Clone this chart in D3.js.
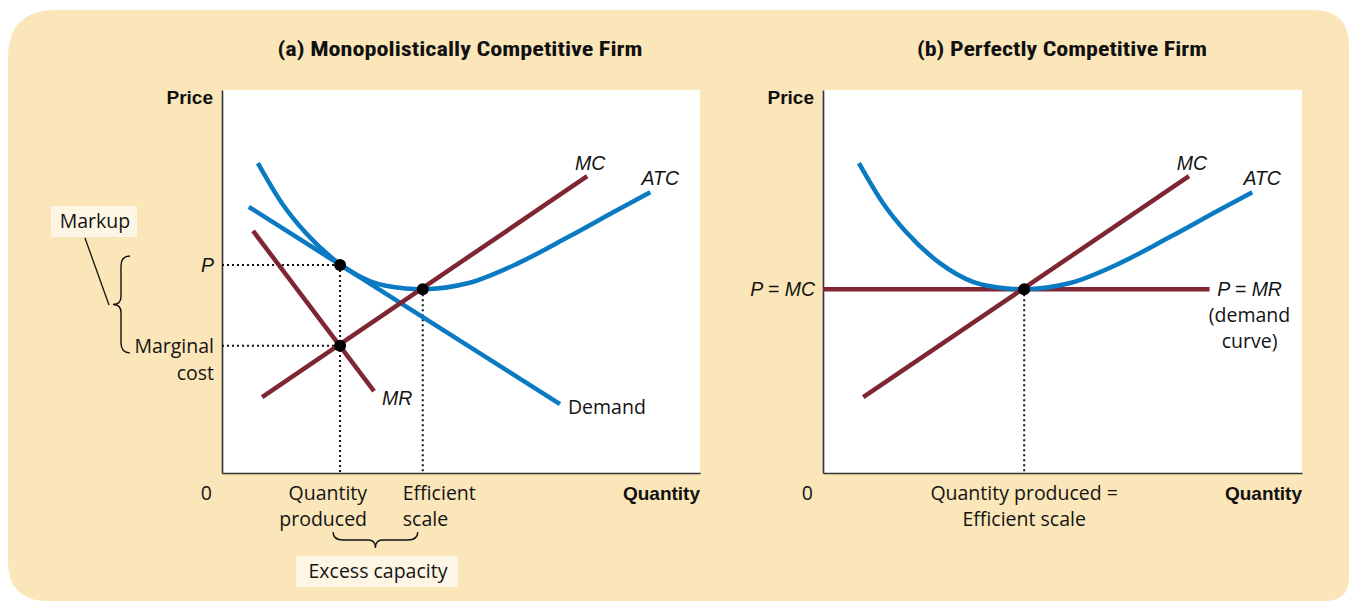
<!DOCTYPE html>
<html><head><meta charset="utf-8">
<script src="https://cdn.jsdelivr.net/npm/d3@7"></script>
<style>
body{margin:0;background:#fff;}
svg{display:block;}
.title{font-family:"Liberation Sans Narrow","Arial Narrow","Roboto Condensed",sans-serif;font-weight:bold;font-size:20px;fill:#111;}
.bold{font-family:"Liberation Sans Narrow","Arial Narrow",sans-serif;font-weight:bold;font-size:19px;fill:#111;}
.reg{font-family:"Open Sans","Noto Sans",sans-serif;font-size:19.5px;fill:#141414;}
.ital{font-family:"Liberation Sans",Arial,sans-serif;font-style:italic;font-size:19.5px;fill:#141414;}
</style></head>
<body>
<svg id="c" width="1349" height="602"></svg>
<script>
// ---- data (quantity 0-100, price/cost 0-100) ----
const atcQ = [7.5, 12.5, 17.5, 24.4, 31.3, 38.4, 41.8, 51.6, 62.0, 72.4, 82.9, 89.6];
const atcP = [80.9, 70.5, 62.7, 54.8, 49.9, 48.2, 48.0, 49.6, 54.8, 61.6, 68.8, 73.3];
const mcQ = [8.4, 76.4];
const mcP = [19.8, 77.5];
const demandQ = [5.6, 70.7];
const demandP = [69.5, 18.0];
const mrQ = [6.5, 31.8];
const mrP = [63.2, 21.4];
const pmrQ = [0, 80.7];
const pmrP = [48.0, 48.0];
// equilibrium points
const qProduced = 24.7, priceA = 54.3, mcAtQ = 33.2;
const qEfficient = 42.0, minATC = 48.0;
const titles = ["(a) Monopolistically Competitive Firm", "(b) Perfectly Competitive Firm"];
const titleWidths = [365, 290];

const BLUE = "#0a7bc2", RED = "#7f2633", BEIGE = "#fae6b8", CREAM = "#fef6e4";
const svg = d3.select("#c");

function roundedPath(x0,y0,x1,y1,rtl,rtr,rbr,rbl){
  const p = d3.path();
  p.moveTo(x0+rtl,y0);
  p.lineTo(x1-rtr,y0); p.quadraticCurveTo(x1,y0,x1,y0+rtr);
  p.lineTo(x1,y1-rbr); p.quadraticCurveTo(x1,y1,x1-rbr,y1);
  p.lineTo(x0+rbl,y1); p.quadraticCurveTo(x0,y1,x0,y1-rbl);
  p.lineTo(x0,y0+rtl); p.quadraticCurveTo(x0,y0,x0+rtl,y0);
  p.closePath(); return p.toString();
}
svg.append("path").attr("d", roundedPath(8,10,1349,601,48,36,24,40)).attr("fill",BEIGE);

const H = {top:90, bottom:473};
const panels = [{left:222,right:700,cx:460},{left:823,right:1302,cx:1062}];

panels.forEach((pn,i)=>{
  const x = d3.scaleLinear().domain([0,100]).range([pn.left,pn.right]);
  const y = d3.scaleLinear().domain([0,100]).range([H.bottom,H.top]);
  const g = svg.append("g");
  g.append("rect").attr("x",pn.left).attr("y",H.top).attr("width",pn.right-pn.left).attr("height",H.bottom-H.top).attr("fill","#fff");
  g.append("g").attr("transform",`translate(${pn.left},0)`)
    .call(d3.axisLeft(y).tickValues([]).tickSizeOuter(0))
    .call(s=>s.select(".domain").attr("stroke","#333").attr("stroke-width",1.6));
  g.append("g").attr("transform",`translate(0,${H.bottom})`)
    .call(d3.axisBottom(x).tickValues([]).tickSizeOuter(0))
    .call(s=>s.select(".domain").attr("stroke","#333").attr("stroke-width",1.6));

  svg.append("text").attr("class","title").attr("x",pn.cx).attr("y",56).attr("text-anchor","middle")
    .attr("textLength",titleWidths[i]).attr("lengthAdjust","spacingAndGlyphs").text(titles[i]);
  svg.append("text").attr("class","bold").attr("x",pn.left-9).attr("y",H.top+14).attr("text-anchor","end").text("Price");
  svg.append("text").attr("class","bold").attr("x",pn.right).attr("y",H.bottom+27).attr("text-anchor","end").text("Quantity");
  svg.append("text").attr("class","reg").attr("x",pn.left-10).attr("y",H.bottom+27).attr("text-anchor","end").text("0");

  const line = d3.line().x(d=>x(d[0])).y(d=>y(d[1]));
  const curve = d3.line().x(d=>x(d[0])).y(d=>y(d[1])).curve(d3.curveMonotoneX);
  const dotted = (x1,y1,x2,y2)=>g.append("line").attr("x1",x(x1)).attr("y1",y(y1)).attr("x2",x(x2)).attr("y2",y(y2))
      .attr("stroke","#111").attr("stroke-width",2).attr("stroke-dasharray","2,3");
  const atc = atcQ.map((q,k)=>[q,atcP[k]]);
  const mc = mcQ.map((q,k)=>[q,mcP[k]]);
  const stroke = (sel,c)=>sel.attr("stroke",c).attr("stroke-width",4.5).attr("fill","none");

  if(i===0){
    dotted(0,priceA,qProduced,priceA);
    dotted(0,mcAtQ,qProduced,mcAtQ);
    dotted(qProduced,priceA,qProduced,0);
    dotted(qEfficient,minATC,qEfficient,0);
    stroke(g.append("path").attr("d",line(demandQ.map((q,k)=>[q,demandP[k]]))),BLUE);
    stroke(g.append("path").attr("d",curve(atc)),BLUE);
    stroke(g.append("path").attr("d",line(mrQ.map((q,k)=>[q,mrP[k]]))),RED);
    stroke(g.append("path").attr("d",line(mc)),RED);
    [[qProduced,priceA],[qProduced,mcAtQ],[qEfficient,minATC]].forEach(d=>
      g.append("circle").attr("cx",x(d[0])).attr("cy",y(d[1])).attr("r",6).attr("fill","#000"));
    svg.append("text").attr("class","ital").attr("x",x(mcQ[1])+3).attr("y",y(mcP[1])-6).attr("text-anchor","middle").text("MC");
    svg.append("text").attr("class","ital").attr("x",x(atcQ[11])+10).attr("y",y(atcP[11])-7).attr("text-anchor","middle").text("ATC");
    svg.append("text").attr("class","ital").attr("x",x(mrQ[1])+8).attr("y",y(mrP[1])+14).text("MR");
    svg.append("text").attr("class","reg").attr("x",x(demandQ[1])+8).attr("y",y(demandP[1])+10).text("Demand");
    svg.append("text").attr("class","ital").attr("x",pn.left-8).attr("y",y(priceA)+7).attr("text-anchor","end").text("P");
    svg.append("text").attr("class","reg").attr("x",pn.left-8).attr("y",y(mcAtQ)+7).attr("text-anchor","end").text("Marginal");
    svg.append("text").attr("class","reg").attr("x",pn.left-8).attr("y",y(mcAtQ)+34).attr("text-anchor","end").text("cost");
    svg.append("text").attr("class","reg").attr("x",x(qProduced)+27).attr("y",H.bottom+27).attr("text-anchor","end").text("Quantity");
    svg.append("text").attr("class","reg").attr("x",x(qProduced)+27).attr("y",H.bottom+53).attr("text-anchor","end").text("produced");
    svg.append("text").attr("class","reg").attr("x",x(qEfficient)-20).attr("y",H.bottom+27).text("Efficient");
    svg.append("text").attr("class","reg").attr("x",x(qEfficient)-20).attr("y",H.bottom+53).text("scale");
    // Markup box + brace
    svg.append("rect").attr("x",51).attr("y",206).attr("width",86).attr("height",31).attr("fill",CREAM);
    svg.append("text").attr("class","reg").attr("x",95).attr("y",228).attr("text-anchor","middle").text("Markup");
    svg.append("line").attr("x1",85).attr("y1",238).attr("x2",109).attr("y2",305).attr("stroke","#111").attr("stroke-width",1.3);
    const yTop = y(priceA)-9, yBot = y(mcAtQ)+7, ym=(yTop+yBot)/2;
    svg.append("path").attr("fill","none").attr("stroke","#111").attr("stroke-width",1.4)
      .attr("d",`M130,${yTop} Q121,${yTop} 121,${yTop+10} L121,${ym-8} Q121,${ym} 113,${ym} Q121,${ym} 121,${ym+8} L121,${yBot-10} Q121,${yBot} 130,${yBot}`);
    const bx0 = x(qProduced)-7, bx1 = x(qEfficient)-5, bm=(bx0+bx1)/2;
    svg.append("path").attr("fill","none").attr("stroke","#111").attr("stroke-width",1.4)
      .attr("d",`M${bx0},532 Q${bx0},540 ${bx0+10},540 L${bm-7},540 Q${bm},540 ${bm},548 Q${bm},540 ${bm+7},540 L${bx1-10},540 Q${bx1},540 ${bx1},532`);
    svg.append("rect").attr("x",296).attr("y",556).attr("width",162).attr("height",31).attr("fill",CREAM);
    svg.append("text").attr("class","reg").attr("x",378).attr("y",578).attr("text-anchor","middle").text("Excess capacity");
  } else {
    dotted(qEfficient,minATC,qEfficient,0);
    stroke(g.append("path").attr("d",line(pmrQ.map((q,k)=>[q,pmrP[k]]))),RED);
    stroke(g.append("path").attr("d",curve(atc)),BLUE);
    stroke(g.append("path").attr("d",line(mc)),RED);
    g.append("circle").attr("cx",x(qEfficient)).attr("cy",y(minATC)).attr("r",6).attr("fill","#000");
    svg.append("text").attr("class","ital").attr("x",x(mcQ[1])+3).attr("y",y(mcP[1])-6).attr("text-anchor","middle").text("MC");
    svg.append("text").attr("class","ital").attr("x",x(atcQ[11])+10).attr("y",y(atcP[11])-7).attr("text-anchor","middle").text("ATC");
    svg.append("text").attr("class","ital").attr("x",pn.left-8).attr("y",y(minATC)+7).attr("text-anchor","end").text("P = MC");
    const lx = x(pmrQ[1])+40;
    svg.append("text").attr("class","ital").attr("x",lx).attr("y",y(minATC)+7).attr("text-anchor","middle").text("P = MR");
    svg.append("text").attr("class","reg").attr("x",lx).attr("y",y(minATC)+33).attr("text-anchor","middle").text("(demand");
    svg.append("text").attr("class","reg").attr("x",lx).attr("y",y(minATC)+59).attr("text-anchor","middle").text("curve)");
    svg.append("text").attr("class","reg").attr("x",x(qEfficient)).attr("y",H.bottom+27).attr("text-anchor","middle").text("Quantity produced =");
    svg.append("text").attr("class","reg").attr("x",x(qEfficient)).attr("y",H.bottom+53).attr("text-anchor","middle").text("Efficient scale");
  }
});
</script>
</body></html>
